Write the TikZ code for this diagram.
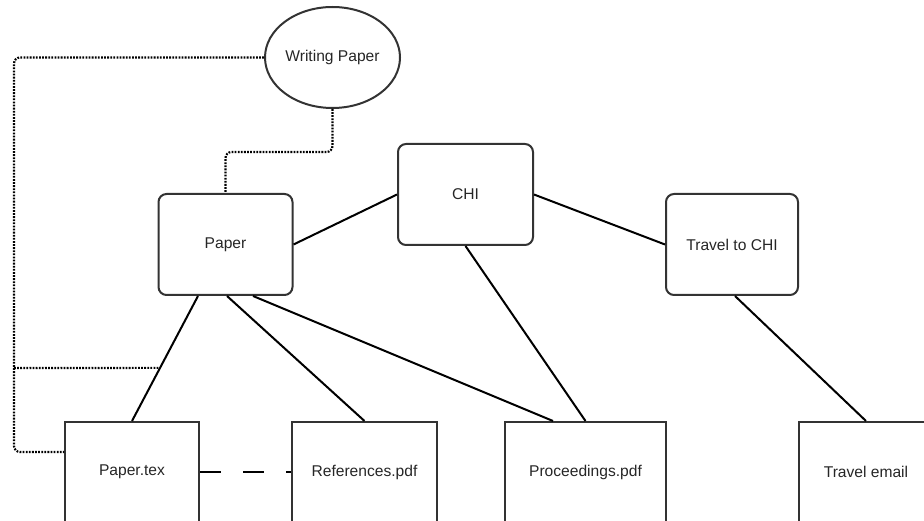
\documentclass[tikz,border=0pt]{standalone}
\usepackage{fontspec}
\setmainfont{Liberation Sans}
\usetikzlibrary{shapes.geometric,calc}
\begin{document}
\begin{tikzpicture}[x=1pt,y=-1pt,
  every node/.style={font=\fontsize{15.6}{18}\selectfont, text=black!85},
  box/.style={draw=black!80, line width=2pt, inner sep=0pt, minimum height=100pt},
  rbox/.style={box, rounded corners=8pt, minimum height=101pt},
  link/.style={line width=2pt},
  dotline/.style={line width=2.2pt, dash pattern=on 1.8pt off 1.3pt, rounded corners=6pt},
  dashline/.style={line width=2pt, dash pattern=on 21pt off 22pt}]
\useasboundingbox (0,0) rectangle (924,521);
\clip (0,0) rectangle (924,521);

% task and project nodes
\node[draw=black!80, ellipse, line width=2pt, inner sep=0pt,
      minimum width=135pt, minimum height=101pt] (wp) at (332.5,57.5) {Writing Paper};
\node[rbox, minimum width=134pt] (paper) at (225.5,244.5) {Paper};
\node[rbox, minimum width=135pt] (chi) at (465.5,194.5) {CHI};
\node[rbox, minimum width=132pt] (trav) at (732,244.5) {Travel to CHI};

% file nodes along the bottom
\node[box, minimum width=134pt] (pt) at (132,472) {Paper.tex};
\node[box, minimum width=145pt] (ref) at (364.5,472) {References.pdf};
\node[box, minimum width=161pt] (proc) at (585.5,472) {Proceedings.pdf};
\node[box, minimum width=134pt] (mail) at (866,472) {Travel email};

% solid links
\draw[link] (paper.east) -- (chi.west);
\draw[link] (chi.east) -- (trav.west);
\draw[link] (chi.south) -- (proc.north);
\draw[link] ([xshift=3pt]trav.south) -- (mail.north);
\draw[link] ([xshift=-27.5pt]paper.south) -- (pt.north);
\draw[link] ([xshift=1.5pt]paper.south) -- (ref.north);
\draw[link] ([xshift=27.5pt]paper.south) -- ([xshift=-32.5pt]proc.north);

% dashed link between the two files
\draw[dashline] (pt.east) -- (ref.west);

% dotted links from the task
\coordinate (hit) at ($([xshift=-27.5pt]paper.south)!0.575!(pt.north)$);
\draw[dotline] (wp.west) -- (14,57.5) -- (14,452) -- ([yshift=20pt]pt.west);
\draw[dotline] (14,368) -- (hit);
\draw[dotline] (wp.south) -- (332.5,152) -- (225.5,152) -- (paper.north);
\end{tikzpicture}
\end{document}
